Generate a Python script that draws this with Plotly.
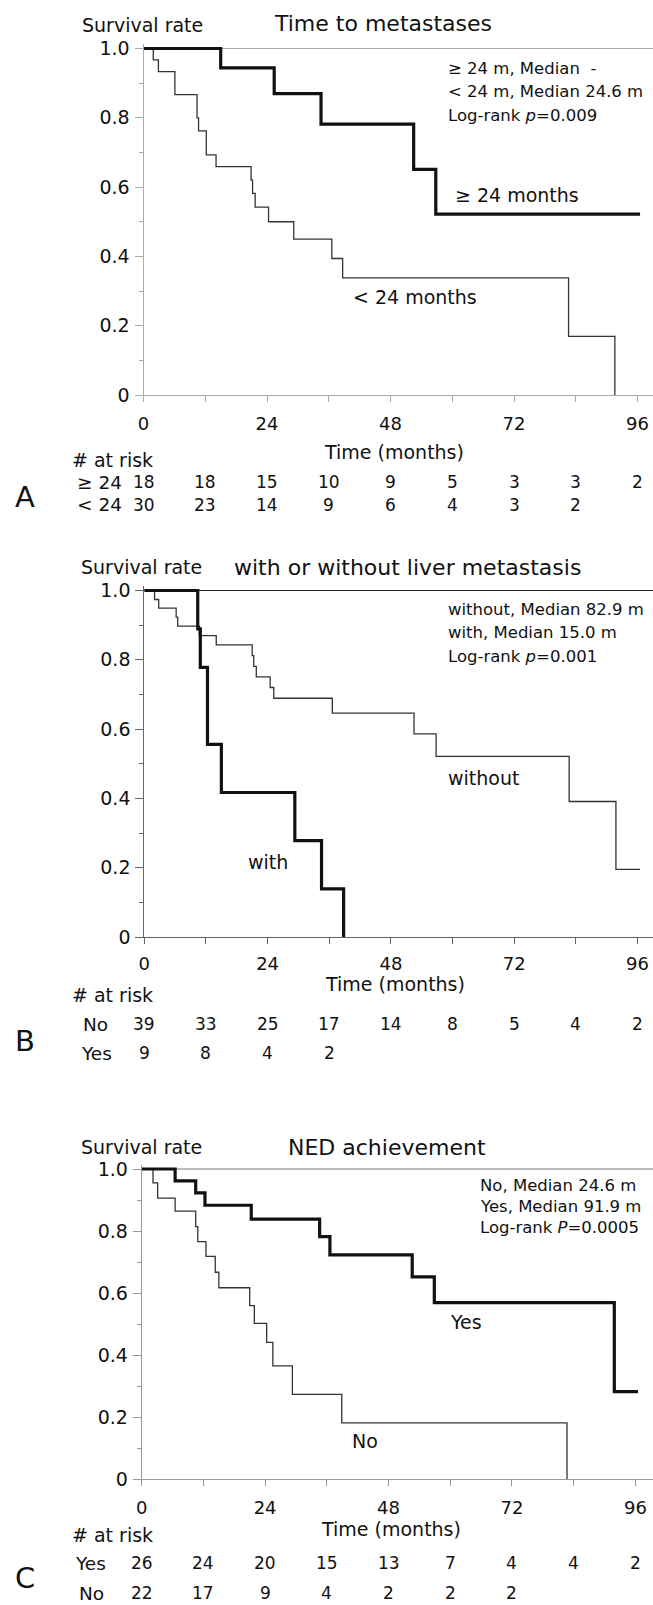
import plotly.graph_objects as go

W, H = 653, 1605
FONT = "DejaVu Sans, Verdana, sans-serif"

# ---------------- Data ----------------
# Panel A: Time to metastases
a_title = "Time to metastases"
a_hi_t = [0, 15.0, 25.4, 34.5, 52.5, 56.8, 96.5]
a_hi_s = [1.0, 0.944, 0.870, 0.782, 0.651, 0.522, 0.522]
a_lo_t = [0, 1.9, 2.9, 6.1, 10.4, 10.7, 12.2, 14.1, 20.9, 21.2, 21.7, 24.3, 29.2, 36.6, 38.7, 82.6, 91.6]
a_lo_s = [1.0, 0.967, 0.933, 0.867, 0.800, 0.762, 0.693, 0.659, 0.620, 0.582, 0.542, 0.500, 0.450, 0.394, 0.338, 0.169, 0.0]
a_stats = ["≥ 24 m, Median  -", "< 24 m, Median 24.6 m", "Log-rank <i>p</i>=0.009"]
a_rows = ["≥ 24", "< 24"]
a_risk_hi = [18, 18, 15, 10, 9, 5, 3, 3, 2]
a_risk_lo = [30, 23, 14, 9, 6, 4, 3, 2]

# Panel B: with or without liver metastasis
b_title = "with or without liver metastasis"
b_wo_t = [0, 2.0, 2.8, 6.2, 6.5, 10.7, 14.0, 21.0, 21.3, 21.8, 24.5, 25.2, 36.6, 52.5, 56.8, 82.7, 91.8, 96.5]
b_wo_s = [1.0, 0.974, 0.949, 0.923, 0.897, 0.870, 0.843, 0.812, 0.781, 0.751, 0.720, 0.689, 0.646, 0.586, 0.521, 0.391, 0.195, 0.195]
b_w_t = [0, 10.4, 10.9, 12.3, 15.0, 29.3, 34.5, 38.8]
b_w_s = [1.0, 0.889, 0.778, 0.556, 0.417, 0.278, 0.139, 0.0]
b_stats = ["without, Median 82.9 m", "with, Median 15.0 m", "Log-rank <i>p</i>=0.001"]
b_rows = ["No", "Yes"]
b_risk_no = [39, 33, 25, 17, 14, 8, 5, 4, 2]
b_risk_yes = [9, 8, 4, 2]

# Panel C: NED achievement
c_title = "NED achievement"
c_yes_t = [0, 6.5, 10.5, 12.3, 21.3, 34.6, 36.6, 52.6, 56.9, 91.9, 96.5]
c_yes_s = [1.0, 0.962, 0.923, 0.883, 0.838, 0.782, 0.723, 0.652, 0.569, 0.282, 0.282]
c_no_t = [0, 2.2, 3.1, 6.5, 10.5, 10.9, 12.5, 14.3, 15.0, 21.0, 21.9, 24.3, 25.5, 29.3, 38.9, 82.7]
c_no_s = [1.0, 0.955, 0.906, 0.864, 0.814, 0.766, 0.718, 0.667, 0.617, 0.559, 0.502, 0.441, 0.365, 0.273, 0.181, 0.0]
c_stats = ["No, Median 24.6 m", "Yes, Median 91.9 m", "Log-rank <i>P</i>=0.0005"]
c_rows = ["Yes", "No"]
c_risk_yes = [26, 24, 20, 15, 13, 7, 4, 4, 2]
c_risk_no = [22, 17, 9, 4, 2, 2, 2]

risk_months = [0, 12, 24, 36, 48, 60, 72, 84, 96]
x_ticks = [0, 24, 48, 72, 96]
x_minor = [12, 36, 60, 84]
y_ticks = [0, 0.2, 0.4, 0.6, 0.8, 1.0]
y_ticktext = ["0", "0.2", "0.4", "0.6", "0.8", "1.0"]
y_minor = [0.1, 0.3, 0.5, 0.7, 0.9]

# ---------------- Figure ----------------
fig = go.Figure()

def px_x(X):
    return X / W

def px_y(Y):
    return 1 - Y / H

# pixel geometry per panel: x of month 0, x of month 96, y of surv 0, y of surv 1
panels = [
    dict(k="", x0=143.5, x96=637.5, y0=395.0, y1=48.5, axc="#aaaaaa", topc="#aaaaaa", lab_off=6),
    dict(k="2", x0=144.3, x96=637.5, y0=937.0, y1=590.5, axc="#666666", topc="#222222", lab_off=4),
    dict(k="3", x0=141.7, x96=635.4, y0=1479.0, y1=1169.0, axc="#999999", topc="#777777", lab_off=6),
]

YTOP = 1.012
for p in panels:
    ppm = (p["x96"] - p["x0"]) / 96.0
    xmax = (W - p["x0"]) / ppm
    ppu = p["y0"] - p["y1"]
    ytop_px = p["y0"] - YTOP * ppu
    xa = dict(domain=[px_x(p["x0"]), 1.0], range=[0, xmax], showgrid=False, zeroline=False,
              showline=True, linecolor=p["axc"], linewidth=1,
              ticks="outside", ticklen=6, tickcolor=p["axc"], tickwidth=1,
              tickmode="array", tickvals=x_ticks, ticktext=[str(v) for v in x_ticks],
              minor=dict(tickvals=x_minor, ticklen=6, tickcolor=p["axc"], ticks="outside"),
              tickfont=dict(family=FONT, size=18, color="#111"),
              ticklabelstandoff=p["lab_off"], fixedrange=True, automargin=False,
              anchor="y" + p["k"])
    ya = dict(domain=[px_y(p["y0"]), px_y(ytop_px)], range=[0, YTOP], showgrid=False, zeroline=False,
              showline=True, linecolor=p["axc"], linewidth=1,
              ticks="outside", ticklen=8, tickcolor=p["axc"], tickwidth=1,
              tickmode="array", tickvals=y_ticks, ticktext=y_ticktext,
              minor=dict(tickvals=y_minor, ticklen=4, tickcolor=p["axc"], ticks="outside"),
              tickfont=dict(family=FONT, size=19, color="#111"),
              ticklabelstandoff=1, fixedrange=True, automargin=False,
              anchor="x" + p["k"])
    fig.update_layout(**{"xaxis" + p["k"]: xa, "yaxis" + p["k"]: ya})
    fig.add_shape(type="line", xref="paper", yref="y" + p["k"],
                  x0=px_x(p["x0"]), x1=1.0, y0=1.0, y1=1.0,
                  line=dict(color=p["topc"], width=1.2), layer="below")

THICK = dict(color="#111111", width=3.2, shape="hv")
THIN = dict(color="#333333", width=1.3, shape="hv")

def add_curve(t, s, line, k):
    fig.add_trace(go.Scatter(x=t, y=s, mode="lines", line=line,
                             xaxis="x" + k, yaxis="y" + k, showlegend=False, hoverinfo="skip"))

add_curve(a_lo_t, a_lo_s, THIN, "")
add_curve(a_hi_t, a_hi_s, THICK, "")
add_curve(b_wo_t, b_wo_s, THIN, "2")
add_curve(b_w_t, b_w_s, THICK, "2")
add_curve(c_no_t, c_no_s, THIN, "3")
add_curve(c_yes_t, c_yes_s, THICK, "3")

def text(t, X, Y, size, xanchor="left"):
    fig.add_annotation(text=t, x=px_x(X), y=px_y(Y), xref="paper", yref="paper",
                       xanchor=xanchor, yanchor="middle", showarrow=False,
                       font=dict(family=FONT, size=size, color="#111"))

def dtext(t, month, Y, size, k, xanchor="center"):
    fig.add_annotation(text=t, x=month, y=px_y(Y), xref="x" + k, yref="paper",
                       xanchor=xanchor, yanchor="middle", showarrow=False,
                       font=dict(family=FONT, size=size, color="#111"))

def dtext_y(t, month, surv, size, k):
    fig.add_annotation(text=t, x=month, y=surv, xref="x" + k, yref="y" + k,
                       xanchor="center", yanchor="middle", showarrow=False,
                       font=dict(family=FONT, size=size, color="#111"))

TS, SS, LS, RS, NS, CS = 22, 16.5, 19, 18.5, 17, 19

# ---- Panel A texts
text("Survival rate", 80, 25, LS)
text(a_title, 383, 23, TS, "center")
for i, s in enumerate(a_stats):
    text(s, 446, [68, 91, 115][i], SS)
dtext_y("≥ 24 months", 72.6, 0.577, CS, "")
dtext_y("< 24 months", 52.7, 0.284, CS, "")
dtext("Time (months)", 48.7, 452, LS, "")
text("# at risk", 70, 460, LS)
text(a_rows[0], 75, 482, RS)
text(a_rows[1], 75, 505, RS)
for m, v in zip(risk_months, a_risk_hi):
    dtext(str(v), m, 482, NS, "")
for m, v in zip(risk_months, a_risk_lo):
    dtext(str(v), m, 505, NS, "")
text("A", 25, 497, 29, "center")

# ---- Panel B texts
text("Survival rate", 79, 567, LS)
text(b_title, 407, 567, TS, "center")
for i, s in enumerate(b_stats):
    text(s, 446, [609, 632.5, 656][i], SS)
dtext_y("without", 66.1, 0.459, CS, "2")
dtext_y("with", 24.1, 0.217, CS, "2")
dtext("Time (months)", 48.7, 984, LS, "2")
text("# at risk", 70, 995, LS)
text(b_rows[0], 81, 1024, RS)
text(b_rows[1], 79, 1053, RS)
for m, v in zip(risk_months, b_risk_no):
    dtext(str(v), m, 1024, NS, "2")
for m, v in zip(risk_months, b_risk_yes):
    dtext(str(v), m, 1053, NS, "2")
text("B", 25, 1041, 29, "center")

# ---- Panel C texts
text("Survival rate", 79, 1147, LS)
text(c_title, 387, 1147, TS, "center")
for i, s in enumerate(c_stats):
    text(s, 478, [1185, 1206, 1227][i], SS)
dtext_y("Yes", 63.0, 0.508, CS, "3")
dtext_y("No", 43.5, 0.122, CS, "3")
dtext("Time (months)", 48.5, 1529, LS, "3")
text("# at risk", 70, 1535, LS)
text(c_rows[0], 73, 1563, RS)
text(c_rows[1], 77, 1593, RS)
for m, v in zip(risk_months, c_risk_yes):
    dtext(str(v), m, 1563, NS, "3")
for m, v in zip(risk_months, c_risk_no):
    dtext(str(v), m, 1593, NS, "3")
text("C", 25, 1578, 29, "center")

fig.update_layout(width=W, height=H, margin=dict(l=0, r=0, t=0, b=0, autoexpand=False),
                  paper_bgcolor="white", plot_bgcolor="white", showlegend=False)

fig.write_html("out.html", config={"displayModeBar": False, "staticPlot": True},
               post_script="document.body.style.margin='0';document.body.style.overflow='hidden';")
